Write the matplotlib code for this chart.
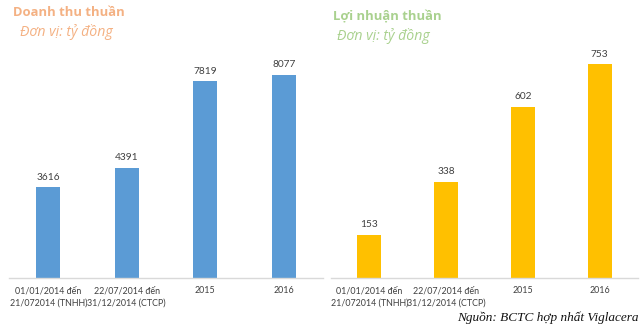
import matplotlib
matplotlib.use("Agg")
import matplotlib.pyplot as plt

# số liệu Viglacera, đơn vị tỷ đồng
categories = ["01/01/2014 đến\n21/072014 (TNHH)", "22/07/2014 đến\n31/12/2014 (CTCP)", "2015", "2016"]
doanh_thu = [3616, 4391, 7819, 8077]
loi_nhuan = [153, 338, 602, 753]

plt.rcParams["font.family"] = ["Lato", "DejaVu Sans"]

fig = plt.figure(figsize=(6.4, 3.25), dpi=100)

def draw_panel(rect, values, color, ymax, width):
    ax = fig.add_axes(rect)
    x = range(len(values))
    bars = ax.bar(x, values, width=width, color=color)
    for b, v in zip(bars, values):
        ax.annotate(str(v), (b.get_x() + b.get_width() / 2, v), xytext=(0, 4),
                    textcoords="offset points", ha="center", va="bottom",
                    fontsize=7.3, color="#404040")
    ax.set_xlim(-0.5, len(values) - 0.5)
    ax.set_ylim(0, ymax)
    ax.set_xticks(list(x))
    ax.set_xticklabels(categories, fontsize=6.4, color="#404040", linespacing=1.5)
    ax.tick_params(axis="x", length=0, pad=6)
    ax.set_yticks([])
    for s in ["top", "left", "right"]:
        ax.spines[s].set_visible(False)
    ax.spines["bottom"].set_color("#D9D9D9")
    ax.spines["bottom"].set_linewidth(1)
    ax.patch.set_alpha(0)
    return ax

bottom = 1 - 278 / 325
draw_panel([9 / 640, bottom, 314 / 640, 1 - bottom], doanh_thu, "#5B9BD5", 11054, 0.3)
draw_panel([331 / 640, bottom, 307 / 640, 1 - bottom], loi_nhuan, "#FFC000", 979, 0.31)

# tiêu đề hai biểu đồ
fig.text(13 / 640, 1 - 13 / 325, "Doanh thu thuần", fontsize=9.4, fontweight="bold",
         color="#F4B183", family=["Open Sans", "DejaVu Sans"], va="center")
fig.text(20 / 640, 1 - 32 / 325, "Đơn vị: tỷ đồng", fontsize=10.2, style="italic",
         color="#F4B183", family=["Open Sans", "DejaVu Sans"], va="center")
fig.text(333 / 640, 1 - 17 / 325, "Lợi nhuận thuần", fontsize=9.4, fontweight="bold",
         color="#A9D18E", family=["Open Sans", "DejaVu Sans"], va="center")
fig.text(337 / 640, 1 - 36 / 325, "Đơn vị: tỷ đồng", fontsize=10.2, style="italic",
         color="#A9D18E", family=["Open Sans", "DejaVu Sans"], va="center")

fig.text(639 / 640, 1 - 318 / 325, "Nguồn: BCTC hợp nhất Viglacera", fontsize=9.5,
         style="italic", color="#111111", family=["Liberation Serif", "DejaVu Serif"],
         ha="right", va="center")

fig.savefig("out.png", dpi=100)
